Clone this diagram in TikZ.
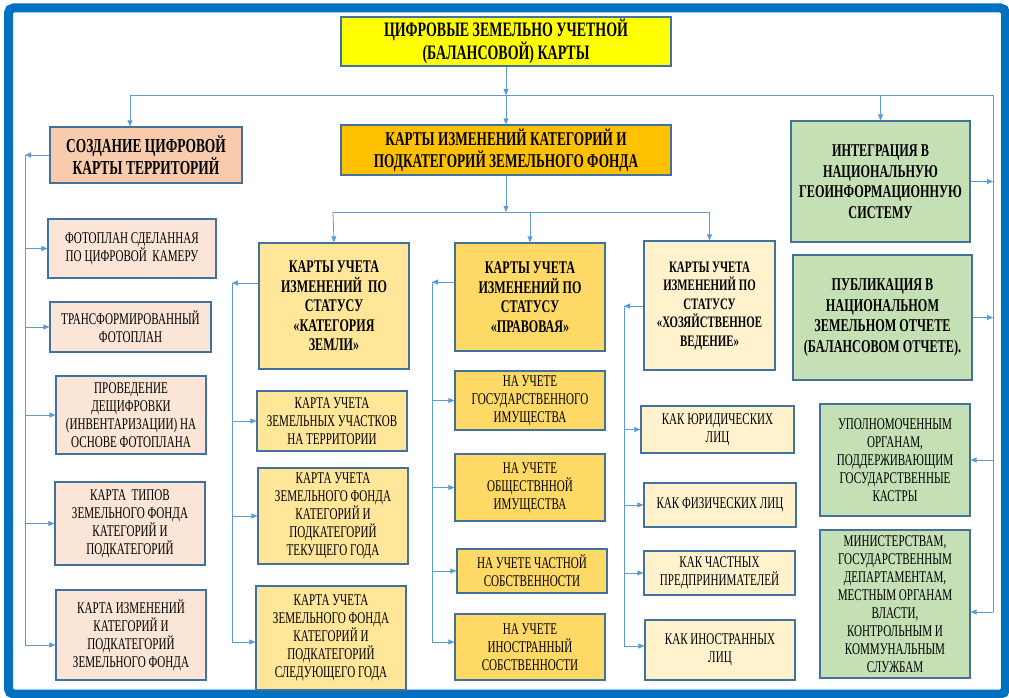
\documentclass[tikz,border=0pt]{standalone}
\usepackage{fontspec}
\setmainfont{Liberation Serif}[FakeStretch=0.68]
\usetikzlibrary{arrows.meta}
\definecolor{frameblue}{HTML}{0070C0}
\definecolor{boxline}{HTML}{41719C}
\definecolor{connblue}{HTML}{5B9BD5}
\definecolor{titlefill}{HTML}{FFFF00}
\definecolor{salmon}{HTML}{F8CBAD}
\definecolor{lightsalmon}{HTML}{FBE5D6}
\definecolor{orangefill}{HTML}{FFC000}
\definecolor{goldA}{HTML}{FFE699}
\definecolor{goldB}{HTML}{FFD966}
\definecolor{goldC}{HTML}{FFF2CC}
\definecolor{greenfill}{HTML}{C5E0B4}
\begin{document}
\begin{tikzpicture}[x=1pt,y=-1pt,
    box/.style={draw=boxline,line width=1.2pt,align=center,inner sep=1pt,
      font=\fontsize{16.3}{18}\selectfont},
    bold box/.style={box,font=\fontsize{18}{20.5}\selectfont\bfseries},
    sz/.style 2 args={minimum width=#1pt,minimum height=#2pt},
    line/.style={draw=connblue,line width=0.8pt},
    conn/.style={line,-{Triangle[length=6pt,width=5pt]}}]

  % frame
  \useasboundingbox (0,0) rectangle (1009,698);
  \fill[white] (0,0) rectangle (1009,698);
  \draw[frameblue,line width=9pt,rounded corners=5pt] (8.5,8) rectangle (1005.5,694);

  % top
  \node[bold box,fill=titlefill,sz={330}{49},font=\fontsize{20.5}{23}\selectfont\bfseries]
    (title) at (506,41.5) {ЦИФРОВЫЕ ЗЕМЕЛЬНО УЧЕТНОЙ\\(БАЛАНСОВОЙ) КАРТЫ};
  \node[bold box,fill=orangefill,sz={330}{50},font=\fontsize{19.5}{22}\selectfont\bfseries]
    (karty) at (506,150) {КАРТЫ ИЗМЕНЕНИЙ КАТЕГОРИЙ И\\ПОДКАТЕГОРИЙ ЗЕМЕЛЬНОГО ФОНДА};

  % left column
  \node[bold box,fill=salmon,sz={192}{56},font=\fontsize{19.8}{22}\selectfont\bfseries]
    (sozd) at (146,155) {СОЗДАНИЕ ЦИФРОВОЙ\\КАРТЫ ТЕРРИТОРИЙ};
  \node[box,fill=lightsalmon,sz={168}{59}] (l1) at (132,248.5) {ФОТОПЛАН СДЕЛАННАЯ\\ПО ЦИФРОВОЙ\ \ КАМЕРУ};
  \node[box,fill=lightsalmon,sz={161}{50}] (l2) at (130.5,327) {ТРАНСФОРМИРОВАННЫЙ\\ФОТОПЛАН};
  \node[box,fill=lightsalmon,sz={150}{78}] (l3) at (131,415) {ПРОВЕДЕНИЕ\\ДЕЩИФРОВКИ\\(ИНВЕНТАРИЗАЦИИ) НА\\ОСНОВЕ ФОТОПЛАНА};
  \node[box,fill=lightsalmon,sz={150}{83}] (l4) at (130,523.5) {КАРТА\ \ ТИПОВ\\ЗЕМЕЛЬНОГО ФОНДА\\КАТЕГОРИЙ И\\ПОДКАТЕГОРИЙ};
  \node[box,fill=lightsalmon,sz={150}{90}] (l5) at (131,635) {КАРТА ИЗМЕНЕНИЙ\\КАТЕГОРИЙ И\\ПОДКАТЕГОРИЙ\\ЗЕМЕЛЬНОГО ФОНДА};

  % status "category"
  \node[bold box,fill=goldA,sz={150}{126},font=\fontsize{17.8}{19.5}\selectfont\bfseries]
    (catA) at (334,306) {КАРТЫ УЧЕТА\\ИЗМЕНЕНИЙ\ \ ПО\\СТАТУСУ\\«КАТЕГОРИЯ\\ЗЕМЛИ»};
  \node[box,fill=goldA,sz={150}{60}] (a1) at (332,421) {КАРТА УЧЕТА\\ЗЕМЕЛЬНЫХ УЧАСТКОВ\\НА ТЕРРИТОРИИ};
  \node[box,fill=goldA,sz={150}{96}] (a2) at (333,516) {КАРТА УЧЕТА\\ЗЕМЕЛЬНОГО ФОНДА\\КАТЕГОРИЙ И\\ПОДКАТЕГОРИЙ\\ТЕКУЩЕГО ГОДА};
  \node[box,fill=goldA,sz={150}{104}] (a3) at (331,638) {КАРТА УЧЕТА\\ЗЕМЕЛЬНОГО ФОНДА\\КАТЕГОРИЙ И\\ПОДКАТЕГОРИЙ\\СЛЕДУЮЩЕГО ГОДА};

  % status "legal"
  \node[bold box,fill=goldB,sz={150}{108},font=\fontsize{17.8}{19.5}\selectfont\bfseries]
    (legB) at (530,297) {КАРТЫ УЧЕТА\\ИЗМЕНЕНИЙ ПО\\СТАТУСУ\\«ПРАВОВАЯ»};
  \node[box,fill=goldB,sz={150}{59}] (b1) at (530,400.5) {НА УЧЕТЕ\\ГОСУДАРСТВЕННОГО\\ИМУЩЕСТВА};
  \node[box,fill=goldB,sz={150}{67}] (b2) at (530,487.5) {НА УЧЕТЕ\\ОБЩЕСТВННОЙ\\ИМУЩЕСТВА};
  \node[box,fill=goldB,sz={150}{44}] (b3) at (532,571) {НА УЧЕТЕ ЧАСТНОЙ\\СОБСТВЕННОСТИ};
  \node[box,fill=goldB,sz={150}{66}] (b4) at (530,647) {НА УЧЕТЕ\\ИНОСТРАННЫЙ\\СОБСТВЕННОСТИ};

  % status "economic"
  \node[bold box,fill=goldC,sz={131}{129},font=\fontsize{16}{18.5}\selectfont\bfseries]
    (ecoC) at (709.5,305.5) {КАРТЫ УЧЕТА\\ИЗМЕНЕНИЙ ПО\\СТАТУСУ\\«ХОЗЯЙСТВЕННОЕ\\ВЕДЕНИЕ»};
  \node[box,fill=goldC,sz={153}{47}] (c1) at (717.5,429.5) {КАК ЮРИДИЧЕСКИХ\\ЛИЦ};
  \node[box,fill=goldC,sz={152}{44}] (c2) at (720,505) {КАК ФИЗИЧЕСКИХ ЛИЦ};
  \node[box,fill=goldC,sz={151}{44}] (c3) at (719.5,573) {КАК ЧАСТНЫХ\\ПРЕДПРИНИМАТЕЛЕЙ};
  \node[box,fill=goldC,sz={150}{60}] (c4) at (720,650) {КАК ИНОСТРАННЫХ\\ЛИЦ};

  % right column
  \node[bold box,fill=greenfill,sz={179}{121}] (r1) at (880.5,181.5) {ИНТЕГРАЦИЯ В\\НАЦИОНАЛЬНУЮ\\ГЕОИНФОРМАЦИОННУЮ\\СИСТЕМУ};
  \node[bold box,fill=greenfill,sz={179}{125}] (r2) at (882.5,317.5) {ПУБЛИКАЦИЯ В\\НАЦИОНАЛЬНОМ\\ЗЕМЕЛЬНОМ ОТЧЕТЕ\\(БАЛАНСОВОМ ОТЧЕТЕ).};
  \node[box,fill=greenfill,sz={150}{112}] (r3) at (895,460) {УПОЛНОМОЧЕННЫМ\\ОРГАНАМ,\\ПОДДЕРЖИВАЮЩИМ\\ГОСУДАРСТВЕННЫЕ\\КАСТРЫ};
  \node[box,fill=greenfill,sz={150}{148}] (r4) at (895,604) {МИНИСТЕРСТВАМ,\\ГОСУДАРСТВЕННЫМ\\ДЕПАРТАМЕНТАМ,\\МЕСТНЫМ ОРГАНАМ\\ВЛАСТИ,\\КОНТРОЛЬНЫМ И\\КОММУНАЛЬНЫМ\\СЛУЖБАМ};

  % bus points
  \coordinate (topL) at (130,95);
  \coordinate (topM) at (506,95);
  \coordinate (topR) at (993,95);
  \coordinate (midL) at (333,212);
  \coordinate (midM) at (506,212);
  \coordinate (midR) at (709.5,212);
  \coordinate (lbusT) at (25,155);   \coordinate (lbusB) at (25,645);
  \coordinate (abusT) at (232,283);  \coordinate (abusB) at (232,642);
  \coordinate (bbusT) at (432,282);  \coordinate (bbusB) at (432,642);
  \coordinate (cbusT) at (624,306);  \coordinate (cbusB) at (624,646);
  \coordinate (rbusB) at (993,612);

  % top connectors
  \draw[conn] (title.south) -- (topM);
  \draw[conn] (topM) -- (karty.north);
  \draw[line] (topL) -- (topR) -- (rbusB);
  \draw[conn] (topL) -- (topL |- sozd.north);
  \draw[conn] (r1.north |- topR) -- (r1.north);
  \draw[conn] (karty.south) -- (midM);
  \draw[line] (midL) -- (midR);
  \draw[conn] (midL) -- (catA.north);
  \draw[conn] (midL -| legB.north) -- (legB.north);
  \draw[conn] (midR) -- (ecoC.north);

  % left bus
  \draw[conn] (sozd.west) -- (lbusT);
  \draw[line] (lbusT) -- (lbusB);
  \foreach \n in {l1,l2,l3,l4}
    \draw[conn] (lbusT |- \n.west) -- (\n.west);
  \draw[conn] (lbusB) -- (lbusB -| l5.west);

  % category bus
  \draw[conn] (catA.west |- abusT) -- (abusT);
  \draw[line] (abusT) -- (abusB);
  \foreach \n in {a1,a2}
    \draw[conn] (abusT |- \n.west) -- (\n.west);
  \draw[conn] (abusB) -- (abusB -| a3.west);

  % legal bus
  \draw[conn] (legB.west |- bbusT) -- (bbusT);
  \draw[line] (bbusT) -- (bbusB);
  \foreach \n in {b1,b2,b3}
    \draw[conn] (bbusT |- \n.west) -- (\n.west);
  \draw[conn] (bbusB) -- (bbusB -| b4.west);

  % economic bus
  \draw[conn] (ecoC.west |- cbusT) -- (cbusT);
  \draw[line] (cbusT) -- (cbusB);
  \foreach \n in {c1,c2,c3}
    \draw[conn] (cbusT |- \n.west) -- (\n.west);
  \draw[conn] (cbusB) -- (cbusB -| c4.west);

  % right bus
  \draw[conn] (r1.east) -- (r1.east -| topR);
  \draw[conn] (r2.east) -- (r2.east -| topR);
  \draw[conn] (topR |- r3.east) -- (r3.east);
  \draw[conn] (rbusB) -- (rbusB -| r4.east);

\end{tikzpicture}
\end{document}
